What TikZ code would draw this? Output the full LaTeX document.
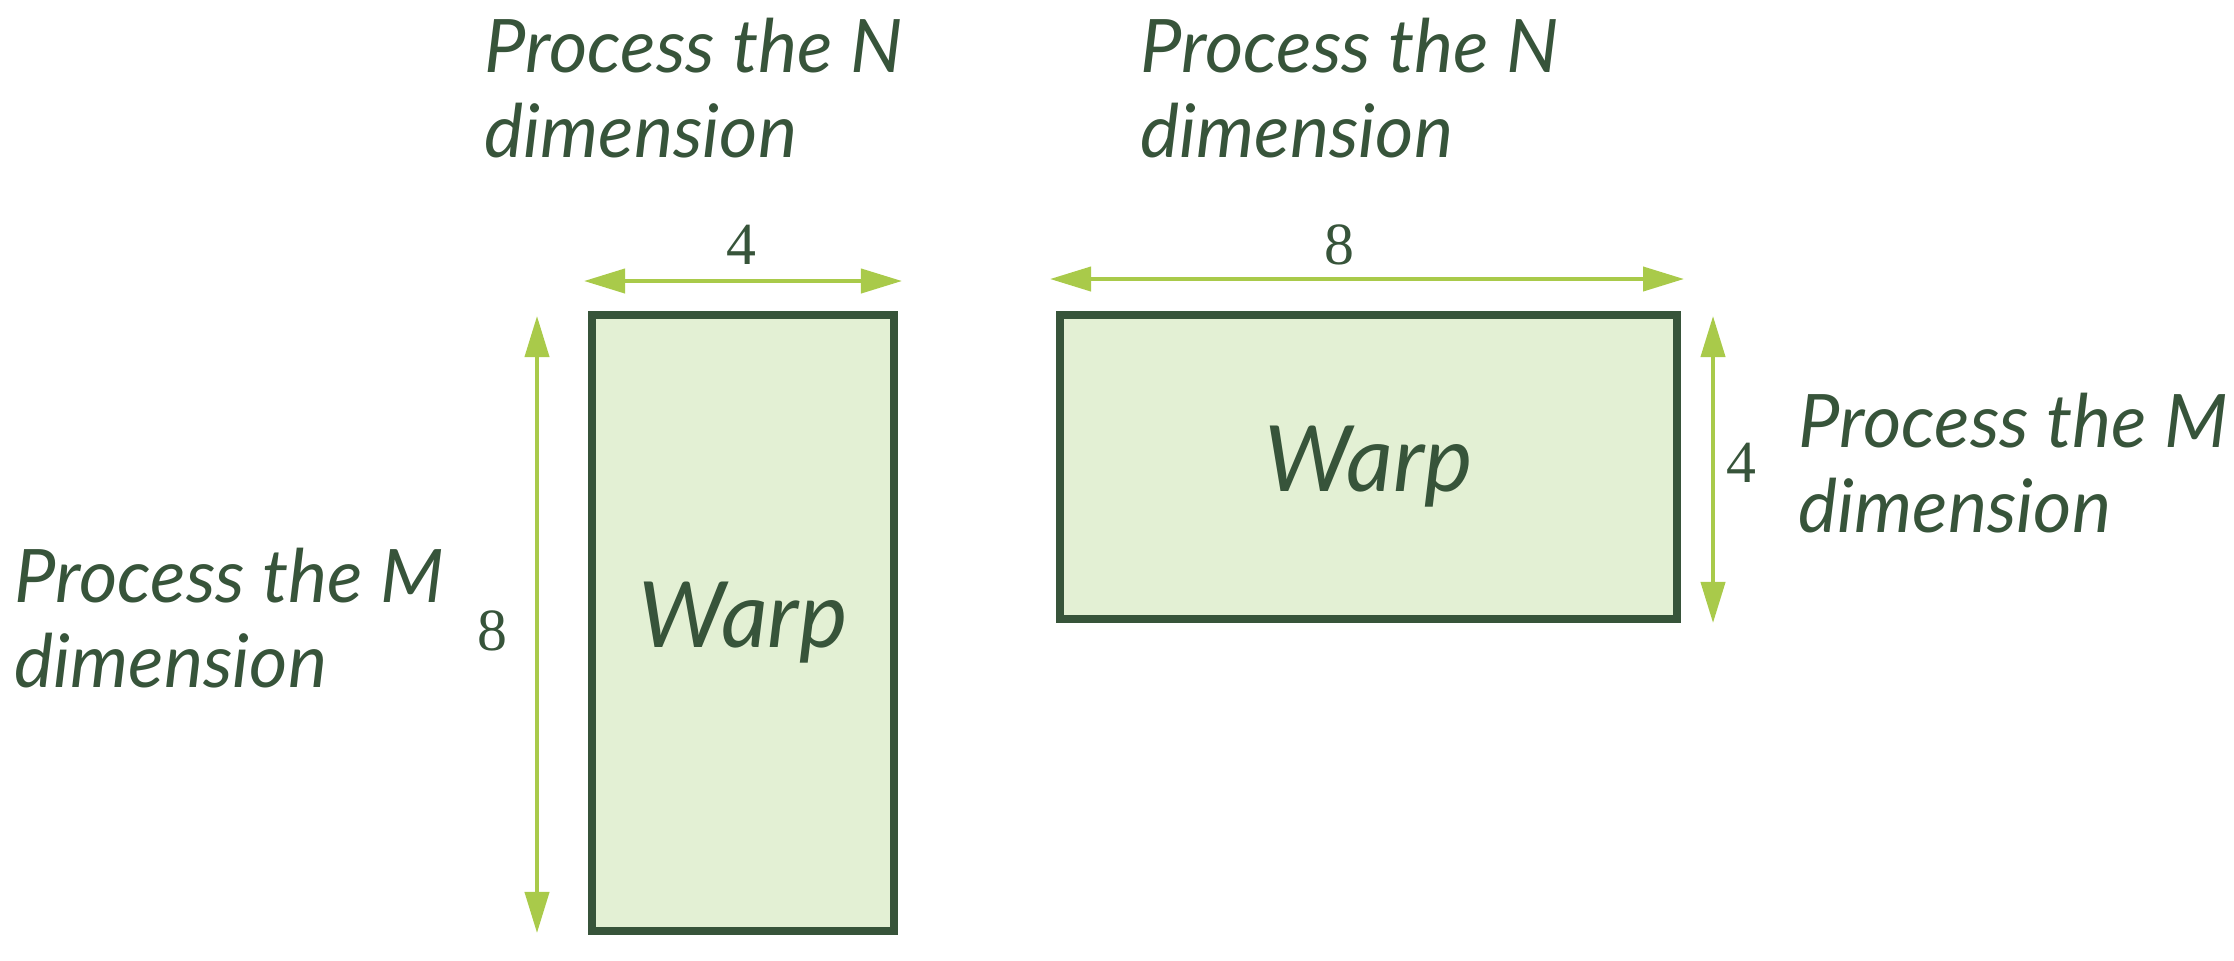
\documentclass[tikz,border=0pt]{standalone}
\usepackage{fontspec}
\newfontfamily\hand{Lato}
\newfontfamily\digitfont{Liberation Serif}
\usetikzlibrary{arrows.meta}
\definecolor{dkgreen}{HTML}{37543A}
\definecolor{lightfill}{HTML}{E3F0D4}
\definecolor{arrgreen}{HTML}{A9CA4A}
\tikzset{
  warpbox/.style={draw=dkgreen, fill=lightfill, line width=2.27pt, inner sep=0pt,
    text=dkgreen, font=\hand\itshape\fontsize{26}{30}\selectfont},
  dimarrow/.style={draw=arrgreen, line width=1.15pt,
    {Triangle[length=4.1mm,width=2.4mm]}-{Triangle[length=4.1mm,width=2.4mm]}},
  dimlabel/.style={text=dkgreen, inner sep=0pt, font=\digitfont\fontsize{17}{20}\selectfont},
  note/.style={text=dkgreen, inner sep=0pt, anchor=west, align=left,
    font=\hand\itshape\fontsize{21}{24.3}\selectfont}
}
\begin{document}
\begin{tikzpicture}[x=0.01cm,y=-0.01cm]
\useasboundingbox (0,0) rectangle (2234,960);
% boxes
\node[warpbox, minimum width=3.02cm, minimum height=6.16cm] (w1) at (743,623) {Warp};
\node[warpbox, minimum width=6.17cm, minimum height=3.04cm] (w2) at (1368.5,467) {Warp};
% arrow end points
\coordinate (a1l) at (584,281);
\coordinate (a1r) at (902,281);
\coordinate (a2t) at (537,316);
\coordinate (a2b) at (537,933);
\coordinate (a3l) at (1050,279);
\coordinate (a3r) at (1684,279);
\coordinate (a4t) at (1713,316);
\coordinate (a4b) at (1713,623);
\draw[dimarrow] (a1l) -- (a1r);
\draw[dimarrow] (a2t) -- (a2b);
\draw[dimarrow] (a3l) -- (a3r);
\draw[dimarrow] (a4t) -- (a4b);
% dimension labels
\node[dimlabel] (d1) at (741,245) {4};
\node[dimlabel] (d2) at (492,631) {8};
\node[dimlabel] (d3) at (1339,245) {8};
\node[dimlabel] (d4) at (1741,463) {4};
% notes
\node[note] (n1) at (484,88) {Process the N\\dimension};
\node[note] (n2) at (1140,88) {Process the N\\dimension};
\node[note] (n3) at (1798,463) {Process the M\\dimension};
\node[note] (n4) at (14,618) {Process the M\\dimension};
\end{tikzpicture}
\end{document}
